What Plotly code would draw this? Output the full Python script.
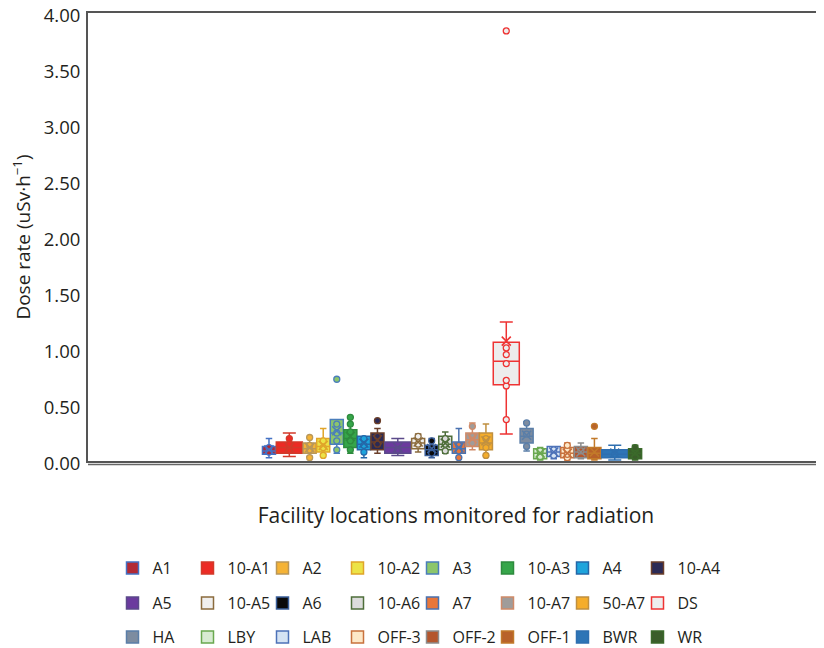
import plotly.graph_objects as go

# ---------------- data ----------------
categories = ["A1", "10-A1", "A2", "10-A2", "A3", "10-A3", "A4", "10-A4",
              "A5", "10-A5", "A6", "10-A6", "A7", "10-A7", "50-A7", "DS",
              "HA", "LBY", "LAB", "OFF-3", "OFF-2", "OFF-1", "BWR", "WR"]
q1_vals     = [0.06, 0.07, 0.07, 0.08, 0.15, 0.12, 0.10, 0.10, 0.07, 0.11, 0.05, 0.10,
               0.07, 0.13, 0.10, 0.68, 0.16, 0.02, 0.04, 0.03, 0.03, 0.02, 0.03, 0.02]
median_vals = [0.09, 0.12, 0.11, 0.13, 0.25, 0.20, 0.15, 0.17, 0.12, 0.16, 0.10, 0.15,
               0.11, 0.19, 0.16, 0.89, 0.22, 0.07, 0.08, 0.07, 0.08, 0.07, 0.06, 0.07]
q3_vals     = [0.13, 0.17, 0.16, 0.20, 0.37, 0.28, 0.22, 0.25, 0.17, 0.20, 0.14, 0.22,
               0.17, 0.25, 0.25, 1.06, 0.29, 0.11, 0.13, 0.12, 0.13, 0.12, 0.10, 0.11]
lower_vals  = [0.03, 0.04, 0.04, 0.06, 0.07, 0.07, 0.03, 0.07, 0.05, 0.08, 0.03, 0.07,
               0.03, 0.10, 0.05, 0.24, 0.09, 0.01, 0.02, 0.01, 0.02, 0.01, 0.01, 0.01]
upper_vals  = [0.20, 0.25, 0.21, 0.29, 0.37, 0.39, 0.22, 0.29, 0.20, 0.24, 0.20, 0.26,
               0.29, 0.34, 0.33, 1.24, 0.35, 0.12, 0.13, 0.16, 0.16, 0.20, 0.14, 0.14]
mean_vals   = [0.10, 0.12, 0.12, 0.14, 0.27, 0.22, 0.16, 0.19, 0.12, 0.17, 0.11, 0.16,
               0.12, 0.20, 0.18, 1.07, 0.23, 0.07, 0.08, 0.07, 0.08, 0.08, 0.07, 0.07]
inner_points = [[0.08, 0.12], [0.10, 0.15, 0.20], [0.03, 0.10, 0.14, 0.21], [0.05, 0.12, 0.18],
                [0.10, 0.18, 0.25, 0.33], [0.10, 0.18, 0.26, 0.33, 0.39], [0.08, 0.14, 0.20],
                [0.15, 0.22], [0.10], [0.15, 0.22], [0.07, 0.12, 0.18], [0.09, 0.15, 0.20],
                [0.03, 0.09, 0.14], [0.16, 0.22, 0.31], [0.05, 0.12, 0.20],
                [0.37, 0.67, 0.72, 0.87, 0.95, 1.01], [0.13, 0.24, 0.34], [0.04, 0.09],
                [0.05, 0.10], [0.03, 0.06, 0.10, 0.14], [0.09], [], [0.06], [0.04, 0.08, 0.12]]
outlier_points = [[], [], [], [], [0.73], [], [], [0.36], [], [], [], [], [], [], [],
                  [3.84], [], [], [], [], [], [0.31], [], []]
y_ticks = [0.0, 0.5, 1.0, 1.5, 2.0, 2.5, 3.0, 3.5, 4.0]

# ---------------- style ----------------
fill_colors = ["#b22a35", "#ec2b25", "#f5b335", "#ece347", "#8cc66b", "#36a64a", "#1ea4dc", "#2b2a55",
               "#6b3a9e", "#f0efee", "#0a0a0a", "#dcdcdc", "#e8763a", "#a09c9a", "#f5ad2a", "#ededed",
               "#7d8ca0", "#d8ebd2", "#d5e3f3", "#fde8c8", "#b4562d", "#b8622a", "#2e75b6", "#3b5e2b"]
line_colors = ["#4472c4", "#d23a2a", "#b8975a", "#e0a52a", "#4a7ebb", "#2e8b3e", "#2467a8", "#6b3f2a",
               "#5b4a8a", "#8b6b3d", "#3a5f9a", "#4e6e3a", "#4a72b0", "#d08a68", "#c09040", "#ee3333",
               "#5a7ea8", "#6aa84f", "#4d72b8", "#c8723d", "#8c8c8c", "#c27a2a", "#2e6fb0", "#3b6a2b"]
WIDE = {"10-A1", "A5", "DS", "BWR"}
FONT = "Open Sans"
OFF = 8                      # page body margin of the browser
W, H = 824 - OFF, 648 - OFF  # figure size that fits the window

centers, widths = [], []
s = 0.0
for c in categories:
    w = 2 if c in WIDE else 1
    centers.append(s + w / 2)
    widths.append(w * 0.96)
    s += w

fig = go.Figure()
legend_ids = ["legend", "legend2", "legend3"]
for i, c in enumerate(categories):
    fig.add_trace(go.Box(
        x=[centers[i]], q1=[q1_vals[i]], median=[median_vals[i]], q3=[q3_vals[i]],
        lowerfence=[lower_vals[i]], upperfence=[upper_vals[i]],
        name=c, width=widths[i], fillcolor=fill_colors[i],
        line=dict(color=line_colors[i], width=1.5), whiskerwidth=0.5,
        boxpoints=False, legend=legend_ids[i // 8],
    ))
# invisible spacer entry so the last legend label of the first row is not clipped
fig.add_trace(go.Box(x=[None], q1=[None], median=[None], q3=[None], name=" ",
                     fillcolor="rgba(0,0,0,0)", line=dict(color="rgba(0,0,0,0)", width=0),
                     legend="legend", hoverinfo="skip"))

px_, py_, pf_, pl_ = [], [], [], []
for i in range(len(categories)):
    for v in inner_points[i] + outlier_points[i]:
        px_.append(centers[i]); py_.append(v)
        pf_.append(fill_colors[i]); pl_.append(line_colors[i])
fig.add_trace(go.Scatter(x=px_, y=py_, mode="markers", showlegend=False,
                         marker=dict(symbol="circle", size=6, color=pf_,
                                     line=dict(color=pl_, width=1.3))))
fig.add_trace(go.Scatter(x=centers, y=mean_vals, mode="markers", showlegend=False,
                         marker=dict(symbol="x-thin-open", size=9, color=line_colors,
                                     line=dict(color=line_colors, width=1.6))))

slot_px = 13.56
left_px = 262.2 - OFF
plot_l, plot_r = 88 - OFF, W
plot_t, plot_b = 13 - OFF, 461 - OFF
ph = plot_b - plot_t

legend_rows_px = [568 - OFF, 603 - OFF, 637 - OFF]
for k, lid in enumerate(legend_ids):
    fig.update_layout(**{lid: dict(
        orientation="h", xref="container", yref="container",
        x=(112.5 - OFF) / W, xanchor="left",
        y=1 - legend_rows_px[k] / H, yanchor="middle",
        entrywidth=30, font=dict(family=FONT, size=16, color="#231f20"),
        bgcolor="rgba(0,0,0,0)", itemclick=False)})

fig.update_layout(
    width=W, height=H,
    margin=dict(l=plot_l, r=W - plot_r, t=plot_t, b=H - plot_b, autoexpand=False),
    paper_bgcolor="white", plot_bgcolor="white",
    boxmode="overlay", font=dict(family=FONT, color="#231f20"),
    xaxis=dict(range=[(plot_l - left_px) / slot_px, (plot_r - left_px) / slot_px],
               showticklabels=False, ticks="", showgrid=False, zeroline=False,
               showline=True, linecolor="#555555", linewidth=2, mirror=True,
               title=dict(text="Facility locations monitored for radiation",
                          font=dict(family=FONT, size=21), standoff=46)),
    yaxis=dict(range=[0, 4], tickvals=y_ticks, tickformat=".2f", showgrid=False,
               zeroline=False, showline=True, linecolor="#555555", linewidth=2,
               ticks="", ticklabelstandoff=2, ticklabelshift=3, ticklabeloverflow="allow",
               tickfont=dict(family=FONT, size=18.5),
               title=dict(text="Dose rate (uSv·h<sup>−1</sup>)",
                          font=dict(family=FONT, size=19), standoff=8)),
    shapes=[dict(type="line", xref="paper", yref="paper", x0=0, x1=1,
                 y0=-3.5 / ph, y1=-3.5 / ph, line=dict(color="#666666", width=1.5))],
)

fig.write_html("out.html")
